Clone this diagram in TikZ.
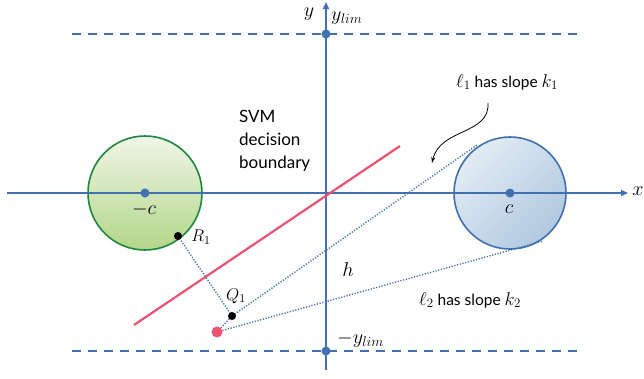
\documentclass[tikz,border=0pt]{standalone}
\usepackage{fix-cm}
\usepackage{fontspec}
\setsansfont{Lato}
\usetikzlibrary{arrows.meta,shadings}
\definecolor{axisblue}{RGB}{65,113,176}
\definecolor{svmred}{RGB}{238,82,110}
\definecolor{ringgreen}{RGB}{30,135,60}
\definecolor{greentop}{RGB}{240,246,232}
\definecolor{greenbot}{RGB}{178,214,136}
\definecolor{bluelite}{RGB}{236,243,249}
\definecolor{bluedark}{RGB}{166,193,219}
\newcommand\slopemath[1]{{\fontsize{18.5}{20}\selectfont$#1$}}
\begin{document}
\begin{tikzpicture}[x=1pt,y=-1pt,
  axis/.style={draw=axisblue,line width=1.6pt,-{Triangle[length=7pt,width=6pt]}},
  limline/.style={draw=axisblue,line width=1.8pt,dash pattern=on 9pt off 7pt},
  guide/.style={draw=axisblue,line width=1.4pt,dash pattern=on 1.2pt off 1.6pt},
  mathlabel/.style={inner sep=0pt,font=\fontsize{20}{24}\selectfont},
  smalllabel/.style={inner sep=0pt,font=\fontsize{17}{20}\selectfont},
  textlabel/.style={inner sep=0pt,anchor=base west,font=\sffamily\fontsize{17}{21}\selectfont},
  slopelabel/.style={inner sep=0pt,anchor=base west,font=\sffamily\fontsize{15.5}{19}\selectfont}]
\path[use as bounding box] (0,0) rectangle (644,378);
% points
\coordinate (O) at (326,193);
\coordinate (negc) at (145,193);
\coordinate (posc) at (510,193);
\coordinate (ylimtop) at (326,34);
\coordinate (ylimbot) at (326,351);
\coordinate (R1) at (178,236);
\coordinate (Q1) at (232,316);
\coordinate (P) at (217,332);
\coordinate (T1) at (477,145);
\coordinate (T2) at (543,241);
% limits
\draw[limline] (72,34) -- (583,34);
\draw[limline] (72,351) -- (583,351);
% classes
\shade[top color=greentop,bottom color=greenbot,draw=ringgreen,line width=1.6pt] (negc) circle[radius=57pt];
\shade[upper left=bluelite,lower right=bluedark,upper right=bluelite!50!bluedark,lower left=bluelite!50!bluedark,draw=axisblue,line width=1.6pt] (posc) circle[radius=56pt];
% axes
\draw[axis] (7,193) -- (628,193);
\draw[axis] (326,370) -- (326,2);
\fill[axisblue] (negc) circle[radius=4.5pt] (posc) circle[radius=4.5pt]
  (ylimtop) circle[radius=4.5pt] (ylimbot) circle[radius=4.5pt];
% decision boundary
\draw[svmred,line width=2.2pt] (134,325) -- (400,146);
% guides
\draw[guide] (R1) -- (Q1);
\draw[guide] (P) -- (Q1) -- (T1);
\draw[guide] (P) -- (T2);
\fill (R1) circle[radius=4pt] (Q1) circle[radius=4pt];
\fill[svmred] (P) circle[radius=5.5pt];
% labels
\node[mathlabel] (xlab) at (638,191) {$x$};
\node[mathlabel] (ylab) at (309,14) {$y$};
\node[mathlabel,anchor=west] (ytop) at (331,18) {$y_{lim}$};
\node[mathlabel,anchor=west] (ybot) at (337,340) {$-y_{lim}$};
\node[mathlabel] (negclab) at (144,209) {$-c$};
\node[mathlabel] (posclab) at (509,209) {$c$};
\node[mathlabel] (hlab) at (348,270) {$h$};
\node[smalllabel] (R1lab) at (201,237) {$R_1$};
\node[smalllabel] (Q1lab) at (236,296) {$Q_1$};
\node[textlabel] (svm) at (239,122) {SVM};
\node[textlabel] (svm2) at (239,145) {decision};
\node[textlabel] (svm3) at (239,168) {boundary};
\node[slopelabel] (l1lab) at (456,87) {\slopemath{\ell_1} has slope \slopemath{k_1}};
\node[slopelabel] (l2lab) at (419,305) {\slopemath{\ell_2} has slope \slopemath{k_2}};
\coordinate (bendend) at (432,163);
\draw[line width=0.8pt,-{Stealth[length=6pt,width=4pt]}] (488,103) .. controls (490,135) and (440,128) .. (bendend);
\end{tikzpicture}
\end{document}
